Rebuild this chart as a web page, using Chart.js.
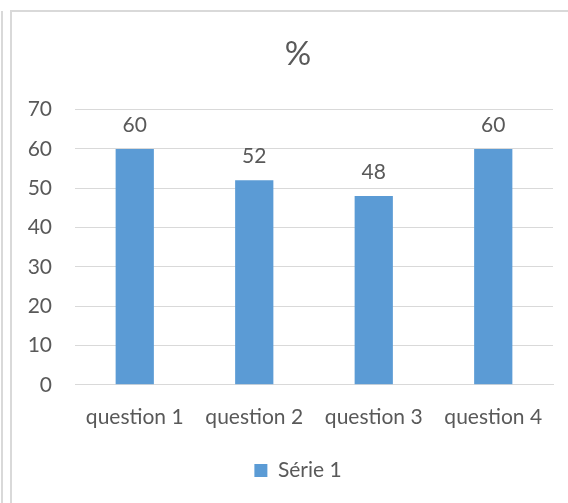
<!DOCTYPE html>
<html>
<head>
<meta charset="utf-8">
<title>%</title>
<script src="https://cdn.jsdelivr.net/npm/chart.js@4/dist/chart.umd.min.js"></script>
<style>
    html, body { margin: 0; padding: 0; background: #fff; }
    #cadre { position: relative; width: 568px; height: 503px; overflow: hidden; }
    #cadre canvas { position: absolute; left: 0; top: 0; }
    .ligne { position: absolute; background: #d9d9d9; }
</style>
</head>
<body>
<div id="cadre">
    <div class="ligne" style="left:1px; top:11px; width:2px; height:492px;"></div>
    <div class="ligne" style="left:10px; top:11px; width:2px; height:492px;"></div>
    <div class="ligne" style="left:10px; top:10px; width:558px; height:2px;"></div>
    <canvas id="barras" width="584" height="503"></canvas>
</div>
<script>
/* données */
var categories = ["question 1", "question 2", "question 3", "question 4"];
var serie1 = [60, 52, 48, 60];
var ticksY = [0, 10, 20, 30, 40, 50, 60, 70];

var gris = "#595959";
var police = "Lato, 'Noto Sans', sans-serif";

/* valeurs au-dessus des barres */
var etiquettes = {
    id: "etiquettes",
    afterDatasetsDraw: function (chart) {
        var ctx = chart.ctx;
        var meta = chart.getDatasetMeta(0);
        ctx.save();
        ctx.fillStyle = gris;
        ctx.font = "21px " + police;
        ctx.textAlign = "center";
        ctx.textBaseline = "middle";
        meta.data.forEach(function (barre, i) {
            ctx.fillText(chart.data.datasets[0].data[i], barre.x, barre.y - 24);
        });
        ctx.restore();
    }
};

function cargaGrafico() {
    var datos = {
        labels: categories,
        datasets: [{
            label: "Série 1",
            backgroundColor: "#5b9bd5",
            data: serie1,
            barPercentage: 0.32,
            categoryPercentage: 1
        }]
    };

    var config = {
        type: "bar",
        data: datos,
        plugins: [etiquettes],
        options: {
            responsive: false,
            animation: false,
            layout: { padding: { left: 12, right: 0, top: 0, bottom: 12 } },
            plugins: {
                title: {
                    display: true,
                    text: "%",
                    color: gris,
                    font: { family: police, size: 33, weight: "normal" },
                    padding: { top: 35, bottom: 35 }
                },
                legend: {
                    position: "bottom",
                    labels: {
                        color: gris,
                        font: { family: police, size: 21 },
                        boxWidth: 13,
                        boxHeight: 13,
                        padding: 10
                    }
                },
                tooltip: { enabled: false }
            },
            scales: {
                x: {
                    grid: { display: false, drawTicks: false },
                    border: { color: "#d9d9d9", width: 1 },
                    ticks: {
                        color: gris,
                        font: { family: police, size: 21 },
                        padding: 20,
                        maxRotation: 0
                    }
                },
                y: {
                    min: ticksY[0],
                    max: ticksY[ticksY.length - 1],
                    afterFit: function (scale) { scale.width = 63; },
                    afterBuildTicks: function (scale) {
                        scale.ticks = ticksY.map(function (v) { return { value: v }; });
                    },
                    grid: { color: "#d9d9d9", lineWidth: 1, drawTicks: false },
                    border: { display: false },
                    ticks: {
                        color: gris,
                        font: { family: police, size: 21 },
                        padding: 23
                    }
                },
                /* marge droite vide, pour centrer titre et légende comme l'original */
                marge: {
                    position: "right",
                    display: true,
                    afterFit: function (scale) { scale.width = 31; },
                    grid: { display: false, drawTicks: false },
                    border: { display: false },
                    ticks: { display: false }
                }
            }
        }
    };
    var grafico = document.getElementById("barras").getContext("2d");
    new Chart(grafico, config);
}

cargaGrafico();
</script>
</body>
</html>
